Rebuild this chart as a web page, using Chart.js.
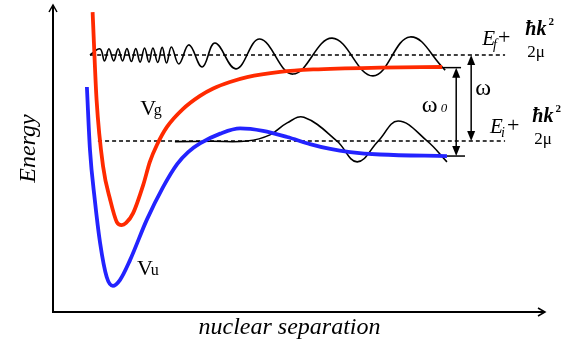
<!DOCTYPE html>
<html lang="en">
<head>
<meta charset="UTF-8">
<title>Vg / Vu potential curves</title>
<script src="https://cdn.jsdelivr.net/npm/chart.js"></script>
<style>
    body { margin: 0; background: #fff; }
    canvas { display: block; }
</style>
</head>
<body>
<canvas id="chart" width="579" height="347"></canvas>
<script>
// potential curves (separation, energy)
const sepVg = [0.90, 0.99, 1.14, 1.30, 1.45, 1.56, 1.66, 1.82, 2.05, 2.20, 2.36, 2.59, 2.95, 3.34, 3.64, 4.02, 4.41, 5.16, 5.91, 7.43, 8.84];
const energyVg = [9.77, 6.91, 4.72, 3.65, 2.93, 2.83, 2.90, 3.22, 4.14, 4.89, 5.44, 6.03, 6.61, 7.04, 7.28, 7.49, 7.65, 7.82, 7.90, 7.96, 7.98];

const sepVu = [0.77, 0.84, 0.95, 1.07, 1.22, 1.36, 1.52, 1.75, 2.13, 2.50, 2.82, 3.07, 3.34, 3.80, 4.25, 4.77, 5.32, 5.84, 6.30, 6.75, 7.43, 8.95];
const energyVu = [7.33, 5.28, 3.65, 2.25, 1.14, 0.85, 1.04, 1.69, 3.00, 4.07, 4.82, 5.21, 5.49, 5.81, 5.98, 5.90, 5.70, 5.47, 5.31, 5.21, 5.13, 5.08];

// wavefunctions (peaks / troughs / crossings)
const sepWaveF = [0.84, 1.07, 1.17, 1.27, 1.38, 1.48, 1.58, 1.68, 1.78, 1.88, 1.98, 2.08, 2.18, 2.27, 2.38, 2.48, 2.58, 2.69, 2.86, 3.09, 3.39, 3.68, 4.16, 4.70, 5.45, 6.34, 7.27, 8.11, 8.91];
const waveF = [8.37, 8.57, 8.18, 8.57, 8.18, 8.57, 8.18, 8.58, 8.16, 8.58, 8.14, 8.60, 8.14, 8.60, 8.13, 8.62, 8.11, 8.63, 8.08, 8.70, 7.98, 8.76, 7.92, 8.89, 7.75, 8.92, 7.69, 8.96, 7.88];

const sepWaveI = [2.77, 3.60, 4.41, 4.93, 5.32, 5.70, 6.45, 6.91, 7.39, 7.84, 8.50, 8.95];
const waveI = [5.55, 5.56, 5.57, 5.77, 6.16, 6.34, 5.57, 4.89, 5.57, 6.22, 5.57, 4.89];

// energy levels
const levelF = 8.37;          // Ef + hk^2/2mu
const levelI = 5.57;          // Ei + hk^2/2mu
const levelSepF = [0.84, 10.27];
const levelSepI = [1.02, 10.27];
const asymG = 7.96;           // Vg dissociation limit
const asymU = 5.08;           // Vu dissociation limit
const asymSepG = [8.86, 9.27];
const asymSepU = [8.95, 9.36];
const omegaSep = 9.50;
const omega0Sep = 9.16;

const pts = (xs, ys) => xs.map((x, i) => ({ x: x, y: ys[i] }));
const flat = (xs, y) => xs.map(x => ({ x: x, y: y }));

const SERIF = '"Liberation Serif", "DejaVu Serif", serif';

function arrowHead(ctx, x, y, dir) {
    // filled head, tip at (x,y), dir = -1 up, 1 down
    ctx.beginPath();
    ctx.moveTo(x, y);
    ctx.lineTo(x - 4, y - dir * 10);
    ctx.lineTo(x + 4, y - dir * 10);
    ctx.closePath();
    ctx.fill();
}

function doubleArrow(ctx, x, y1, y2) {
    ctx.beginPath();
    ctx.moveTo(x, y1 + 6);
    ctx.lineTo(x, y2 - 6);
    ctx.stroke();
    arrowHead(ctx, x, y1, -1);
    arrowHead(ctx, x, y2, 1);
}

function levelLabel(ctx, x, y, sub, fx, fy) {
    ctx.font = 'italic 21px ' + SERIF;
    ctx.fillText('E', x, y);
    let w = ctx.measureText('E').width;
    ctx.font = 'italic 14px ' + SERIF;
    ctx.fillText(sub, x + w - 2, y + 4);
    ctx.font = '22px ' + SERIF;
    ctx.fillText('+', x + w + (sub === 'f' ? 3 : 4), y - 1);
    ctx.font = 'bold italic 20px ' + SERIF;
    ctx.fillText('\u0127k', fx, fy);
    let kw = ctx.measureText('\u0127k').width;
    ctx.font = 'bold 11px ' + SERIF;
    ctx.fillText('2', fx + kw + 2, fy - 10);
    ctx.font = '17px ' + SERIF;
    ctx.fillText('2\u03bc', fx + 2, fy + 22);
}

const decor = {
    id: 'decor',
    beforeDatasetsDraw(chart) {
        const { ctx, chartArea: a } = chart;
        ctx.save();
        ctx.strokeStyle = '#000';
        ctx.lineWidth = 2;
        ctx.beginPath();
        ctx.moveTo(a.left, a.top);
        ctx.lineTo(a.left, a.bottom);
        ctx.lineTo(a.right - 1, a.bottom);
        ctx.stroke();
        ctx.lineWidth = 1.5;
        ctx.beginPath();
        ctx.moveTo(a.left - 4, a.top + 7);
        ctx.lineTo(a.left, a.top);
        ctx.lineTo(a.left + 4, a.top + 7);
        ctx.moveTo(a.right - 8, a.bottom - 4);
        ctx.lineTo(a.right - 1, a.bottom);
        ctx.lineTo(a.right - 8, a.bottom + 4);
        ctx.stroke();
        ctx.restore();
    },
    afterDatasetsDraw(chart) {
        const { ctx, chartArea: a, scales: { x, y } } = chart;
        const X = v => x.getPixelForValue(v);
        const Y = v => y.getPixelForValue(v);
        ctx.save();
        ctx.fillStyle = '#000';
        ctx.strokeStyle = '#000';
        ctx.lineWidth = 1.5;

        doubleArrow(ctx, X(omegaSep), Y(levelF), Y(levelI));
        doubleArrow(ctx, X(omega0Sep), Y(asymG), Y(asymU));

        ctx.textBaseline = 'alphabetic';
        ctx.textAlign = 'left';

        // axis titles
        ctx.font = 'italic 24px ' + SERIF;
        ctx.textAlign = 'center';
        ctx.fillText('nuclear separation', (a.left + a.right) / 2 - 10, a.bottom + 22);
        ctx.save();
        ctx.translate(a.left - 18, (a.top + a.bottom) / 2 - 10);
        ctx.rotate(-Math.PI / 2);
        ctx.fillText('Energy', 0, 0);
        ctx.restore();
        ctx.textAlign = 'left';

        // curve names
        ctx.font = '22px ' + SERIF;
        ctx.fillText('V', X(1.98), Y(6.42));
        ctx.fillText('V', X(1.91), Y(1.21));
        ctx.font = '16px ' + SERIF;
        ctx.fillText('g', X(2.29), Y(6.42));
        ctx.fillText('u', X(2.22), Y(1.21));

        // omega labels
        ctx.font = '24px ' + SERIF;
        ctx.fillText('\u03c9', X(9.59), Y(7.07));
        ctx.fillText('\u03c9', X(8.38), Y(6.51));
        ctx.font = 'italic 13px ' + SERIF;
        ctx.fillText('0', X(8.81), Y(6.51));

        // level labels
        levelLabel(ctx, X(9.75), Y(8.70), 'f', X(10.73), Y(9.02));
        levelLabel(ctx, X(9.93), Y(5.83), 'i', X(10.89), Y(6.19));
        ctx.restore();
    }
};

const base = { pointRadius: 0, fill: false, tension: 0.4 };
const smooth = { ...base, cubicInterpolationMode: 'monotone' };

new Chart(document.getElementById('chart'), {
    type: 'line',
    data: {
        datasets: [
            { ...smooth, label: 'Vg', data: pts(sepVg, energyVg), borderColor: '#ff2a00', borderWidth: 3.8, order: 0 },
            { ...smooth, label: 'Vu', data: pts(sepVu, energyVu), borderColor: '#2323ff', borderWidth: 3.8, order: 0 },
            { ...base, label: 'psi f', data: pts(sepWaveF, waveF), borderColor: '#000', borderWidth: 1.6, order: 1 },
            { ...base, label: 'psi i', data: pts(sepWaveI, waveI), borderColor: '#000', borderWidth: 1.6, order: 1 },
            { ...base, label: 'Ef', data: flat(levelSepF, levelF), borderColor: '#000', borderWidth: 1.5, borderDash: [4, 3], order: 2 },
            { ...base, label: 'Ei', data: flat(levelSepI, levelI), borderColor: '#000', borderWidth: 1.5, borderDash: [4, 3], order: 2 },
            { ...base, label: 'limit g', data: flat(asymSepG, asymG), borderColor: '#000', borderWidth: 1.5, order: 2 },
            { ...base, label: 'limit u', data: flat(asymSepU, asymU), borderColor: '#000', borderWidth: 1.5, order: 2 }
        ]
    },
    options: {
        responsive: false,
        animation: false,
        layout: { padding: { left: 53, right: 33, top: 5, bottom: 35 } },
        plugins: { legend: { display: false }, tooltip: { enabled: false } },
        scales: {
            x: { type: 'linear', min: 0, max: 11.2, display: false },
            y: { type: 'linear', min: 0, max: 10, display: false }
        }
    },
    plugins: [decor]
});
</script>
</body>
</html>
